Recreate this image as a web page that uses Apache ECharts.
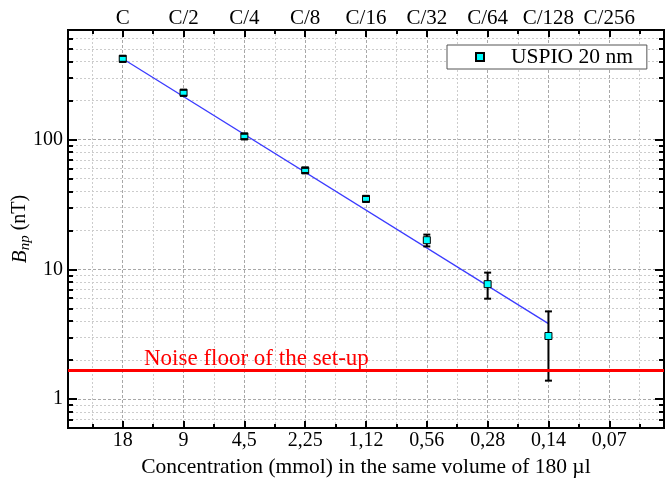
<!DOCTYPE html>
<html>
<head>
<meta charset="utf-8">
<script src="https://cdn.jsdelivr.net/npm/echarts@6/dist/echarts.min.js"></script>
<style>html,body{margin:0;padding:0;background:#fff}#c{width:669px;height:478px}</style>
</head>
<body>
<div id="c"></div>
<script>
// ---- data ----
const positions = [1, 2, 3, 4, 5, 6, 7, 8];
const bottomLabels = ['18', '9', '4,5', '2,25', '1,12', '0,56', '0,28', '0,14', '0,07'];
const topLabels = ['C', 'C/2', 'C/4', 'C/8', 'C/16', 'C/32', 'C/64', 'C/128', 'C/256'];
const bnp = [420, 230, 106, 58, 35, 16.8, 7.7, 3.07];
const bnpErr = [22, 12, 5, 2.6, 1.8, 1.75, 1.75, 1.68];
const fitX = [1, 8];
const fitY = [420, 3.82];
const noiseFloor = 1.66;
const xMajor = [1, 2, 3, 4, 5, 6, 7, 8, 9];
const xMinor = [0.5, 1.5, 2.5, 3.5, 4.5, 5.5, 6.5, 7.5, 8.5, 9.5];
const yMajor = [1, 10, 100];
const yMinor = [0.6, 0.7, 0.8, 0.9, 2, 3, 4, 5, 6, 7, 8, 9, 20, 30, 40, 50, 60, 70, 80, 90, 200, 300, 400, 500, 600];

const FONT = '"Liberation Serif", "Times New Roman", serif';
const gridMajor = { show: true, lineStyle: { color: '#a8a8a8', type: [3, 2], width: 1 } };
const gridMinor = { show: true, lineStyle: { color: '#cccccc', type: [2, 2], width: 1 } };

function xAx(pos, custom, len, labels, split, margin, fs, extra) {
  return Object.assign({
    type: 'value', position: pos, min: 0.1, max: 9.9,
    axisLine: { show: true, onZero: false, lineStyle: { color: '#000', width: 2 } },
    axisTick: { show: true, inside: true, length: len, customValues: custom, lineStyle: { color: '#000', width: 2 } },
    axisLabel: labels ? { show: true, customValues: custom, margin: margin, color: '#000', fontFamily: FONT, fontSize: fs,
      formatter: v => labels[Math.round(v) - 1] } : { show: false },
    splitLine: split
  }, extra || {});
}
function yAx(pos, custom, len, withLabels, split, extra) {
  return Object.assign({
    type: 'log', position: pos, min: 0.6, max: 700, logBase: 10,
    axisLine: { show: true, onZero: false, lineStyle: { color: '#000', width: 2 } },
    axisTick: { show: true, inside: true, length: len, customValues: custom, lineStyle: { color: '#000', width: 2 } },
    axisLabel: withLabels ? { show: true, customValues: custom, margin: 5, color: '#000', fontFamily: FONT, fontSize: 20,
      formatter: v => String(Math.round(v)) } : { show: false },
    splitLine: split
  }, extra || {});
}

const chart = echarts.init(document.getElementById('c'), null, { renderer: 'canvas' });
chart.setOption({
  animation: false,
  backgroundColor: '#fff',
  grid: { left: 68, right: 5, top: 30, bottom: 50, containLabel: false, outerBoundsMode: 'none' },
  legend: {
    left: 447, top: 45, orient: 'horizontal',
    backgroundColor: '#fff', borderColor: '#555', borderWidth: 1,
    padding: [1, 14, 1, 28],
    itemWidth: 8, itemHeight: 8,
    textStyle: { color: '#000', fontFamily: FONT, fontSize: 21.5, padding: [0, 0, 0, 22] },
    data: [{ name: 'USPIO 20 nm', icon: 'path://M0 0H10V10H0Z' }]
  },
  xAxis: [
    xAx('bottom', xMajor, 7, bottomLabels, gridMajor, 3, 20, {
      name: 'Concentration (mmol) in the same volume of 180 µl', nameLocation: 'middle', nameGap: 27,
      nameTextStyle: { color: '#000', fontFamily: FONT, fontSize: 21.5 } }),
    xAx('bottom', xMinor, 4, null, gridMinor, 3, 20),
    xAx('top', xMajor, 7, topLabels, { show: false }, 1, 21),
    xAx('top', xMinor, 4, null, { show: false }, 1, 21)
  ],
  yAxis: [
    yAx('left', yMajor, 9, true, gridMajor, {
      name: '{b|B}{s|np} {n|(nT)}', nameLocation: 'middle', nameGap: 35, nameMoveOverlap: false,
      nameTextStyle: { color: '#000', fontFamily: FONT, fontSize: 20,
        rich: {
          b: { fontFamily: FONT, fontSize: 21, fontStyle: 'italic', color: '#000', lineHeight: 26 },
          s: { fontFamily: FONT, fontSize: 15, fontStyle: 'italic', color: '#000', lineHeight: 12, verticalAlign: 'bottom' },
          n: { fontFamily: FONT, fontSize: 20, color: '#000', lineHeight: 26 }
        } } }),
    yAx('left', yMinor, 5, false, gridMinor),
    yAx('right', yMajor, 9, false, { show: false }),
    yAx('right', yMinor, 5, false, { show: false })
  ],
  series: [
    {
      name: 'fit', type: 'line', xAxisIndex: 0, yAxisIndex: 0, z: 2,
      data: fitX.map((x, i) => [x, fitY[i]]),
      symbol: 'none', lineStyle: { color: '#3b3bff', width: 1.3 },
      markLine: {
        silent: true, symbol: 'none',
        lineStyle: { color: '#ff0000', width: 3, type: 'solid' },
        label: { show: true, position: 'insideStartTop', formatter: 'Noise floor of the set-up',
          color: '#ff0000', fontFamily: FONT, fontSize: 23, distance: 0, padding: [0, 0, 0, 76] },
        data: [{ yAxis: noiseFloor }]
      }
    },
    {
      name: 'USPIO 20 nm', type: 'scatter', xAxisIndex: 0, yAxisIndex: 0, z: 3,
      data: positions.map((x, i) => [x, bnp[i]]),
      symbol: 'rect', symbolSize: 7,
      itemStyle: { color: '#00ffff', borderColor: '#000', borderWidth: 1, opacity: 1 }
    },
    {
      name: 'err', type: 'custom', xAxisIndex: 0, yAxisIndex: 0, z: 4,
      data: positions.map((x, i) => [x, bnp[i], bnpErr[i]]),
      encode: { x: 0, y: 1 },
      renderItem: function (params, api) {
        const x = api.value(0), y = api.value(1), e = api.value(2);
        const c = api.coord([x, y]);
        const t = api.coord([x, y + e]), b = api.coord([x, y - e]);
        const w = 3.5, h = 3.5, st = { stroke: '#000', lineWidth: 2 };
        const kids = [
          { type: 'line', shape: { x1: t[0] - w, y1: t[1], x2: t[0] + w, y2: t[1] }, style: st },
          { type: 'line', shape: { x1: b[0] - w, y1: b[1], x2: b[0] + w, y2: b[1] }, style: st }
        ];
        if (t[1] < c[1] - h) kids.push({ type: 'line', shape: { x1: c[0], y1: t[1], x2: c[0], y2: c[1] - h }, style: st });
        if (b[1] > c[1] + h) kids.push({ type: 'line', shape: { x1: c[0], y1: c[1] + h, x2: c[0], y2: b[1] }, style: st });
        return { type: 'group', children: kids };
      }
    }
  ]
});
</script>
</body>
</html>
